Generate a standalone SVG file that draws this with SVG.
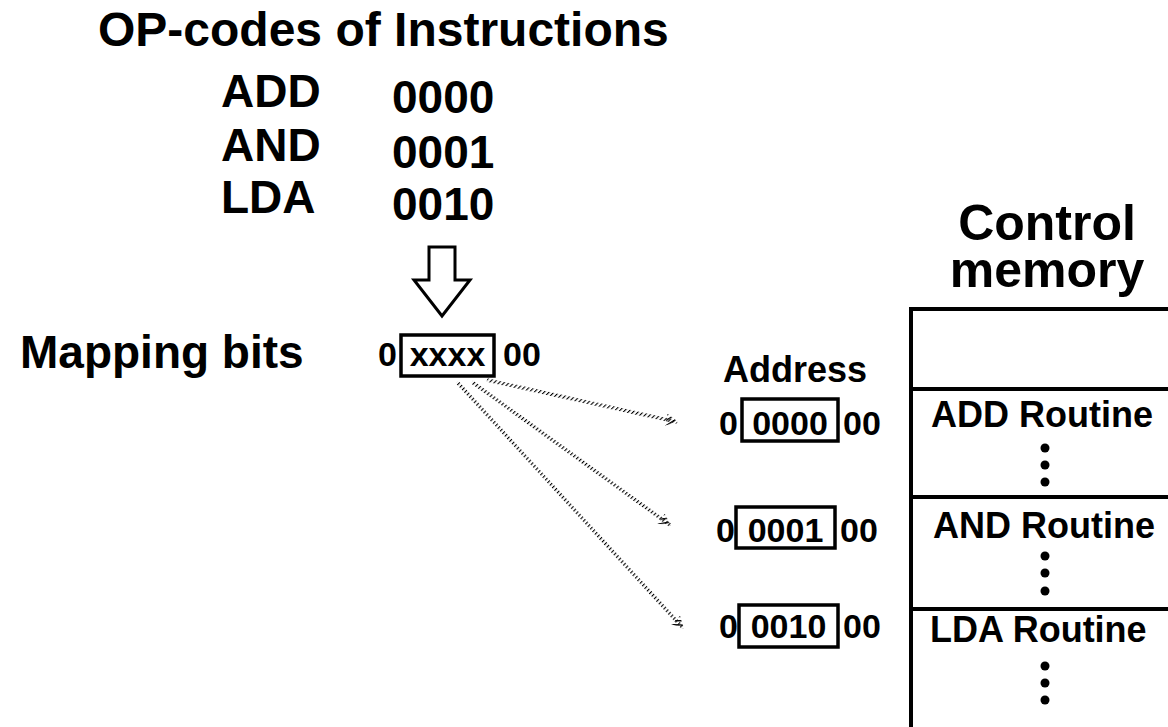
<svg xmlns="http://www.w3.org/2000/svg" width="1168" height="727" viewBox="0 0 1168 727">
<style>
text{font-family:"Liberation Sans",Arial,sans-serif;font-weight:bold;fill:#000}
.big{font-size:46px}
.title{font-size:48px}
.cm{font-size:50px}
.addr{font-size:34px}
.rt{font-size:36px}
.mid{text-anchor:middle}
.box{fill:none;stroke:#000;stroke-width:3.5}
.mem{fill:none;stroke:#000;stroke-width:4}
.conn{fill:none;stroke:url(#hatch);stroke-width:3.5}
</style>
<defs>
<pattern id="hatch" width="3.5" height="3.5" patternUnits="userSpaceOnUse" patternTransform="rotate(45)">
<rect x="0" y="0" width="1.1" height="3.5" fill="#000"/>
</pattern>
<marker id="ah" viewBox="0 0 10 10" refX="9" refY="5" markerWidth="3.5" markerHeight="3.5" orient="auto" markerUnits="strokeWidth">
<path d="M0,0 L10,5 L0,10 Z" fill="url(#hatch)"/>
</marker>
</defs>
<rect width="1168" height="727" fill="#fff"/>
<g id="opcodes">
<text class="title" x="98" y="46">OP-codes of Instructions</text>
<text class="big" x="221" y="107">ADD</text>
<text class="big" x="221" y="161">AND</text>
<text class="big" x="221" y="213">LDA</text>
<text class="big" x="392" y="113">0000</text>
<text class="big" x="392" y="168">0001</text>
<text class="big" x="392" y="220">0010</text>
</g>
<g id="down-arrow">
<polygon points="429,247 455,247 455,280 470,280 442,316 414,280 429,280" fill="none" stroke="#000" stroke-width="3"/>
</g>
<g id="mapping">
<text class="big" x="20" y="368">Mapping bits</text>
<text class="addr" x="378" y="366">0</text>
<rect class="box" x="401" y="335" width="93" height="41"/>
<text class="addr mid" x="447.5" y="366">xxxx</text>
<text class="addr" x="503" y="366">00</text>
</g>
<g id="address">
<text class="rt" x="723" y="382">Address</text>
<text class="addr" x="719" y="435">0</text>
<rect class="box" x="742" y="399" width="96" height="42"/>
<text class="addr mid" x="790" y="435">0000</text>
<text class="addr" x="843" y="435">00</text>
<text class="addr" x="716" y="542">0</text>
<rect class="box" x="736" y="507" width="99" height="41"/>
<text class="addr mid" x="785.5" y="542">0001</text>
<text class="addr" x="840" y="542">00</text>
<text class="addr" x="719" y="638">0</text>
<rect class="box" x="739" y="605" width="99" height="42"/>
<text class="addr mid" x="788.5" y="638">0010</text>
<text class="addr" x="843" y="638">00</text>
</g>
<g id="control-memory">
<text class="cm mid" x="1047" y="240">Control</text>
<text class="cm mid" x="1047" y="287">memory</text>
<path class="mem" d="M1172,309 H911 V731 M911,389 H1172 M911,497 H1172 M911,609 H1172"/>
<text class="rt" x="931" y="427">ADD Routine</text>
<text class="rt" x="933" y="538">AND Routine</text>
<text class="rt" x="930" y="642">LDA Routine</text>
<g fill="#000">
<circle cx="1045" cy="448" r="4.5"/><circle cx="1045" cy="465" r="4.5"/><circle cx="1045" cy="482" r="4.5"/>
<circle cx="1045" cy="556" r="4.5"/><circle cx="1045" cy="573" r="4.5"/><circle cx="1045" cy="591" r="4.5"/>
<circle cx="1045" cy="666" r="4.5"/><circle cx="1045" cy="683" r="4.5"/><circle cx="1045" cy="700" r="4.5"/>
</g>
</g>
<g id="connectors">
<line class="conn" x1="487" y1="380" x2="677" y2="422" marker-end="url(#ah)"/>
<line class="conn" x1="472" y1="382" x2="670" y2="525" marker-end="url(#ah)"/>
<line class="conn" x1="457" y1="382" x2="683" y2="628" marker-end="url(#ah)"/>
</g>
</svg>
